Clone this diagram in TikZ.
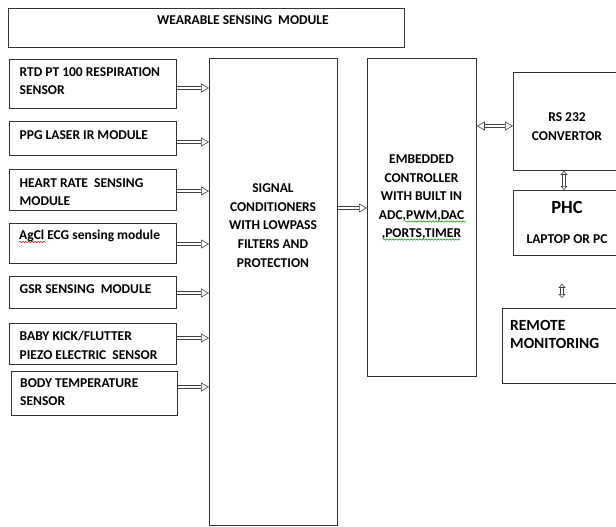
\documentclass[tikz,border=0pt]{standalone}
\usepackage{fontspec}
\setmainfont{Carlito}
\usetikzlibrary{arrows.meta,calc,decorations.pathmorphing}
\tikzset{
  box/.style={draw=black!80, line width=0.8pt, inner sep=0pt, anchor=north west},
  txt/.style={inner sep=0pt, font=\fontsize{13.5}{18.6}\selectfont\bfseries},
  ltxt/.style={txt, anchor=north west, align=left},
  ctxt/.style={txt, anchor=north, align=center},
  tipshape/.tip={Triangle[open, length=8pt, width=9pt, line width=0.6pt]},
  smalltip/.tip={Triangle[open, length=4pt, width=7pt, line width=0.6pt]},
  harrow/.style={draw=black!75, double=white, double distance=2.8pt, line width=0.7pt, -tipshape},
  hdarrow/.style={draw=black!75, double=white, double distance=2.8pt, line width=0.7pt, tipshape-tipshape},
  vdarrow/.style={draw=black!75, double=white, double distance=2.6pt, line width=0.7pt, smalltip-smalltip},
  squig/.style={decorate, decoration={snake, amplitude=0.7pt, segment length=3pt}, line width=0.5pt}
}
\begin{document}
\begin{tikzpicture}[x=1pt, y=-1pt]
\useasboundingbox (0,0) rectangle (616,527);
% top box
\node[box, minimum width=396pt, minimum height=39pt] (wsm) at (8,8) {};
\node[txt] (wsmt) at (243,20) {WEARABLE SENSING\ \ MODULE};
% sensor boxes
\node[box, minimum width=167pt, minimum height=49pt] (s1) at (9,59) {};
\node[box, minimum width=167pt, minimum height=34pt] (s2) at (9,121) {};
\node[box, minimum width=167pt, minimum height=41pt] (s3) at (9,169) {};
\node[box, minimum width=167pt, minimum height=40pt] (s4) at (9,223) {};
\node[box, minimum width=167pt, minimum height=32pt] (s5) at (9,276) {};
\node[box, minimum width=167pt, minimum height=41pt] (s6) at (9,323) {};
\node[box, minimum width=166pt, minimum height=44pt] (s7) at (11,371) {};
\node[ltxt] (t1) at (19.5,67.3) {RTD PT 100 RESPIRATION\\SENSOR};
\node[ltxt] (t2) at (19.5,130.6) {PPG LASER IR MODULE};
\node[ltxt] (t3) at (19.5,178.3) {HEART RATE\ \ SENSING\\MODULE};
\node[ltxt] (t4) at (19,230) {AgCl ECG sensing module};
\node[ltxt] (t5) at (19.5,284.6) {GSR SENSING\ \ MODULE};
\node[ltxt] (t6) at (19.5,331) {BABY KICK/FLUTTER\\PIEZO ELECTRIC\ \ SENSOR};
\node[ltxt] (t7) at (20,378) {BODY TEMPERATURE\\SENSOR};
% signal conditioners
\node[box, minimum width=128pt, minimum height=467pt] (sig) at (209,58) {};
\node[ctxt] (sigt) at (273,183.6) {SIGNAL\\CONDITIONERS\\WITH LOWPASS\\FILTERS AND\\PROTECTION};
% embedded controller
\node[box, minimum width=109pt, minimum height=318pt] (emb) at (367,58) {};
\node[ctxt] (embt) at (421.5,154.6) {EMBEDDED\\CONTROLLER\\WITH BUILT IN\\ADC,PWM,DAC\\,PORTS,TIMER};
% RS232
\node[box, minimum width=106pt, minimum height=98pt] (rs) at (513,72) {};
\node[ctxt] (rst) at (567,112.6) {RS 232\\CONVERTOR};
% PHC
\node[box, minimum width=106pt, minimum height=65pt] (phc) at (513,190) {};
\node[txt, font=\fontsize{18.5}{20}\selectfont\bfseries] (phct) at (567,207) {PHC};
\node[txt] (lap) at (567,239) {LAPTOP OR PC};
% remote
\node[box, minimum width=113.5pt, minimum height=75pt] (rem) at (502,308) {};
\node[txt, anchor=north west, align=left, font=\fontsize{15.5}{18.2}\selectfont\bfseries] (remt) at (510,320) {REMOTE\\MONITORING};
% spell-check squiggles
\draw[squig, red] (19,242) -- (46,242);
\draw[squig, green!60!black] (405,221.5) -- (466,221.5);
\draw[squig, green!60!black] (383,239.5) -- (460,239.5);
% arrows sensors -> signal
\foreach \s/\yy in {s1/88, s2/142, s3/191, s4/244, s5/293, s6/338, s7/387}{
  \draw[harrow] (\s.east |- 0,\yy) -- (sig.west |- 0,\yy);
}
\draw[harrow] (sig.east |- 0,208) -- (emb.west |- 0,208);
\draw[hdarrow] (emb.east |- 0,126) -- (rs.west |- 0,126);
\draw[vdarrow] (rs.south -| 564,0) -- (phc.north -| 564,0);
\coordinate (r1) at ($(phc.south -| 562,0)+(0,28)$);
\coordinate (r2) at ($(rem.north -| 562,0)+(0,-10)$);
\draw[vdarrow] (r1) -- (r2);
\end{tikzpicture}
\end{document}
